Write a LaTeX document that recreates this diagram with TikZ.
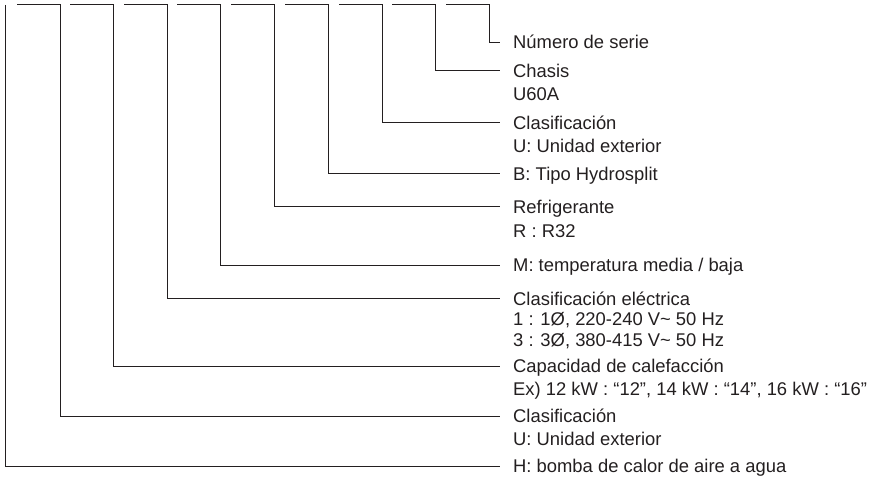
\documentclass[tikz,border=0pt]{standalone}
\usepackage{fontspec}
\setmainfont{Liberation Sans}
\definecolor{ink}{HTML}{231F20}
\begin{document}
\begin{tikzpicture}[x=1pt,y=-1pt,
  lead/.style={draw=ink,line width=1pt},
  desc/.style={anchor=base west,inner sep=0pt,align=left,text=ink,
    font=\fontsize{18.4}{23}\selectfont}]
\useasboundingbox (0,0) rectangle (880,494);
% code positions (x of each drop) and label heights (y of each leader)
\foreach \n/\x/\y in {h/5/466,u/60/416,c/113/366,e/167/298.7,m/220/265,
                      r/274/206.5,b/328/174,k/382/122.7,s/435/71,n/489/42.3}{
  \coordinate (top\n) at (\x,5);
  \coordinate (end\n) at (500,\y);
}
% description labels (anchored on the baseline of their last line)
\node[desc] (ln) at (513,48.9) {Número de serie};
\node[desc] (ls) at (513,100.6) {Chasis\\U60A};
\node[desc] (lk) at (513,152.3) {Clasificación\\U: Unidad exterior};
\node[desc] (lb) at (513,180.6) {B: Tipo Hydrosplit};
\node[desc] (lr) at (513,237.1) {Refrigerante\\[1pt]R : R32};
\node[desc] (lm) at (513,271.6) {M: temperatura media / baja};
\node[desc] (le) at (513,346.3) {Clasificación eléctrica\\[-2.5pt]1 : 1Ø, 220-240 V\textasciitilde{} 50 Hz\\[-2.5pt]3 : 3Ø, 380-415 V\textasciitilde{} 50 Hz};
\node[desc] (lc) at (513,395.6) {Capacidad de calefacción\\Ex) 12 kW : “12”, 14 kW : “14”, 16 kW : “16”};
\node[desc] (lu) at (513,445.6) {Clasificación\\U: Unidad exterior};
\node[desc] (lh) at (513,472.6) {H: bomba de calor de aire a agua};
% leaders: short tick on top, drop down, run right to the label
\draw[lead] (toph) |- (endh);
\foreach \n in {u,c,e,m,r,b,k,s,n}{
  \draw[lead] ([xshift=-43pt]top\n) -- (top\n) |- (end\n);
}
\end{tikzpicture}
\end{document}
